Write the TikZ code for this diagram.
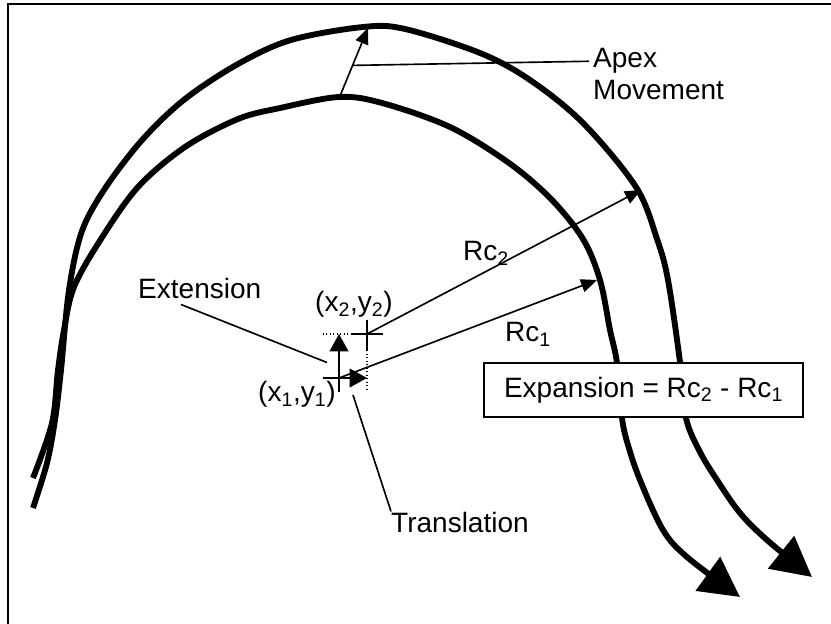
\documentclass[tikz,border=0pt]{standalone}
\usepackage{fontspec}
\setmainfont{Liberation Sans}
\usetikzlibrary{positioning, arrows.meta, calc}

\newcommand{\Rcs}[1]{Rc\textsubscript{#1}}

\begin{document}
\begin{tikzpicture}[
    x=0.03cm, y=-0.03cm, % one unit is one pixel of the sketch, y going down
    every node/.style={font=\fontsize{23.9}{30}\selectfont, inner sep=0pt},
    thread/.style={line width=5pt, line join=round},
    guide/.style={line width=1.4pt},
    bigtip/.style={-{Triangle[length=1.19cm, width=1.22cm]}},
    smalltip/.style={-{Triangle[length=0.48cm, width=0.4cm]}},
    crosstip/.style={-{Triangle[length=0.52cm, width=0.56cm]}}
]
    \useasboundingbox (0,0) rectangle (831,624);

    % frame (only its top and left edges fall inside the sketch)
    \draw [line width=1.7pt] (8,624) -- (8,4) -- (831,4);

    % the two outlines, before and after
    \draw [thread, bigtip] plot[smooth, tension=0.55] coordinates {
        (33,508) (47,463) (55,420) (61,370) (69,290) (82,231) (106,187)
        (143,139) (185,99) (238,64) (291,40) (363,27) (405,29) (480,53)
        (530,80) (583,123) (636,187) (657,239) (668,280) (680,362)
        (686,418) (700,452) (717,480) (740,513) (767,540) (812,577)};
    \draw [thread, bigtip] plot[smooth, tension=0.55] coordinates {
        (33,478) (52,423) (58,370) (64,330) (74,287) (101,239) (138,187)
        (185,147) (238,119) (280,108) (339,97) (382,103) (450,127)
        (509,163) (551,199) (583,239) (600,280) (610,330) (617,363)
        (622,418) (628,445) (640,480) (663,530) (687,557) (740,597)};

    % centre points
    \coordinate (p1) at (339,378);
    \coordinate (p2) at (367,334);
    \coordinate (apexlow) at (340,96);
    \coordinate (apexhigh) at (368,28);
    \coordinate (rcone) at (597,280);
    \coordinate (rctwo) at (641,190);

    % labels
    \node (ext) [anchor=base west] at (138,299) {Extension};
    \node (apex) [anchor=base west, inner sep=0.12cm] at (589,68) {Apex};
    \node (move) [anchor=base west] at ([yshift=-0.96cm, xshift=0.12cm]apex.base west) {Movement};
    \node (rc2) [anchor=base west] at (463,261) {\Rcs{2}};
    \node (rc1) [anchor=base west] at (505,342) {\Rcs{1}};
    \node (pt2) [anchor=base west] at (315,312) {(x\textsubscript{2},y\textsubscript{2})};
    \node (pt1) [anchor=base west] at (258,402) {(x\textsubscript{1},y\textsubscript{1})};
    \node (trans) [anchor=base west] at (391,532) {Translation};
    \node (expbox) [draw, guide, fill=white, minimum width=9.57cm,
        minimum height=1.62cm] at (643.5,390) {Expansion = \Rcs{2} - \Rcs{1}};

    % crosses, dotted guides and shifts
    \draw [guide] (p1) ++(-16,0) -- ++(16,0);
    \draw [guide, crosstip] (p1) ++(0,14) -- (p1 |- p2);
    \draw [guide, crosstip] (p1) -- (p1 -| p2);
    \draw [guide] (p2) ++(-15,0) -- ++(31,0);
    \draw [guide] (p2) ++(0,-14) -- ++(0,30);
    \draw [line width=1pt, dotted] (p2) ++(-15,0) -- ++(-29,0);
    \draw [line width=1pt, dotted] (p2) ++(0,16) -- ++(0,42);

    % radii and apex movement
    \draw [guide, smalltip] (p1) -- (rcone);
    \draw [guide, smalltip] (p2) -- (rctwo);
    \draw [guide, smalltip] (apexlow) -- (apexhigh);

    % pointers
    \draw [guide] ($(apexlow)!0.45!(apexhigh)$) -- (apex.west);
    \draw [guide] (ext.south west) ++(43,5) -- ++(146,58);
    \draw [guide] (p1) ++(14,17) -- (trans.north west);
\end{tikzpicture}
\end{document}
